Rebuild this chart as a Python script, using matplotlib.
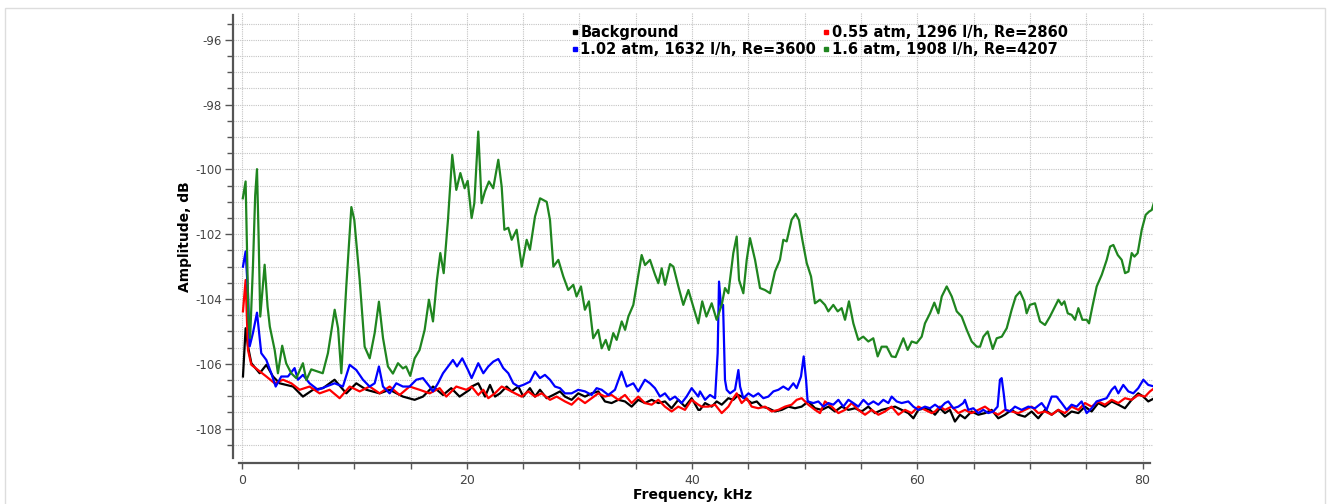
"""Spectra of the background and three flow regimes."""

import matplotlib.pyplot as plt
from matplotlib.lines import Line2D
from matplotlib.patches import Rectangle
from matplotlib.ticker import MultipleLocator, FixedLocator

W, H = 1329, 504

labels = ['Background', '0.55 atm, 1296 l/h, Re=2860',
          '1.02 atm, 1632 l/h, Re=3600', '1.6 atm, 1908 l/h, Re=4207']
colors = ['#000000', '#ff0000', '#0000ff', '#1f851f']

freq_bg = [0.115, 0.35, 0.56, 0.86, 1.6, 2.19, 2.78, 3.37, 4.56, 5.44, 6.33, 7.22, 8.25,
           9.29, 10.18, 11.07, 12.25, 13.14, 14.32, 15.36, 16.1, 16.99, 17.88, 18.61,
           19.35, 20.24, 20.42, 21.01, 21.61, 22.05, 22.5, 22.94, 23.53, 23.97, 24.57,
           25.01, 25.6, 26.05, 26.49, 27.08, 27.67, 28.27, 28.71, 29.3, 29.89, 30.49,
           31.08, 31.67, 32.26, 32.85, 33.45, 34.04, 34.63, 35.22, 35.81, 36.41, 37.0,
           37.59, 38.18, 38.77, 39.37, 39.96, 40.55, 40.7, 41.15, 41.74, 42.18, 42.63,
           43.22, 43.66, 44.1, 44.7, 45.29, 45.74, 46.18, 46.77, 47.36, 47.96, 48.55,
           49.14, 49.73, 50.32, 50.92, 51.51, 52.1, 52.69, 53.28, 53.88, 54.47, 55.06,
           55.65, 56.24, 56.84, 57.43, 58.02, 58.61, 59.2, 59.65, 60.09, 60.68, 61.12,
           61.57, 62.01, 62.46, 62.9, 63.34, 63.79, 64.23, 64.82, 65.42, 66.01, 66.6,
           67.19, 67.78, 68.38, 68.97, 69.56, 70.15, 70.74, 71.34, 71.93, 72.52, 73.11,
           73.7, 74.3, 74.89, 75.48, 76.07, 76.66, 77.26, 77.85, 78.44, 79.03, 79.62,
           80.07, 80.51, 81.05]
amp_bg = [-106.39, -104.90, -105.46, -105.98, -106.29, -106.03, -106.39, -106.60, -106.70,
          -107.01, -106.80, -106.75, -106.49, -106.91, -106.60, -106.80, -106.91, -106.80,
          -107.01, -107.11, -107.01, -106.70, -106.96, -106.75, -107.01, -106.80, -106.70,
          -106.60, -107.01, -106.65, -107.01, -106.91, -106.70, -106.85, -106.70, -107.01,
          -106.75, -107.01, -106.80, -107.06, -106.96, -106.85, -107.01, -107.11, -106.91,
          -107.01, -106.91, -106.85, -107.16, -107.21, -107.11, -107.16, -107.32, -107.11,
          -107.21, -107.11, -107.21, -107.16, -107.37, -107.11, -107.32, -107.06, -107.42,
          -107.42, -107.21, -107.32, -107.16, -107.26, -107.06, -107.11, -106.96, -107.06,
          -107.21, -107.16, -107.32, -107.37, -107.47, -107.42, -107.32, -107.37, -107.32,
          -107.16, -107.37, -107.42, -107.32, -107.47, -107.32, -107.42, -107.37, -107.47,
          -107.32, -107.52, -107.42, -107.37, -107.32, -107.42, -107.52, -107.68, -107.42,
          -107.37, -107.42, -107.57, -107.37, -107.52, -107.42, -107.78, -107.57, -107.68,
          -107.47, -107.57, -107.52, -107.42, -107.68, -107.57, -107.42, -107.57, -107.63,
          -107.47, -107.68, -107.42, -107.57, -107.42, -107.63, -107.47, -107.52, -107.32,
          -107.47, -107.21, -107.32, -107.16, -107.26, -107.37, -107.11, -106.91, -107.01,
          -107.16, -107.06]

freq_low = [0.115, 0.35, 0.56, 0.86, 1.45, 2.19, 2.93, 3.67, 4.41, 5.15, 6.03, 6.92, 7.81,
            8.7, 9.59, 10.48, 11.36, 12.25, 13.14, 14.03, 14.91, 15.8, 16.69, 17.58, 18.17,
            19.06, 19.95, 20.42, 21.01, 21.46, 21.9, 22.49, 23.09, 23.68, 24.27, 24.86,
            25.45, 26.05, 26.64, 27.38, 27.97, 28.71, 29.3, 29.89, 30.49, 31.08, 31.67,
            32.26, 32.85, 33.45, 34.04, 34.63, 35.22, 35.81, 36.41, 37.0, 37.59, 38.18,
            38.77, 39.37, 39.96, 40.55, 40.85, 41.44, 42.04, 42.63, 43.22, 43.66, 43.96,
            44.4, 44.85, 45.29, 45.88, 46.48, 47.07, 47.66, 48.25, 48.84, 49.29, 49.73,
            50.32, 50.92, 51.36, 51.8, 52.4, 52.99, 53.58, 54.17, 54.76, 55.36, 55.95,
            56.54, 57.13, 57.72, 58.32, 58.91, 59.5, 60.09, 60.68, 61.28, 61.57, 62.01,
            62.46, 63.05, 63.64, 64.23, 64.82, 65.42, 66.01, 66.6, 67.19, 67.78, 68.38,
            68.97, 69.56, 70.15, 70.74, 71.34, 71.93, 72.52, 73.11, 73.7, 74.3, 74.89,
            75.48, 76.07, 76.66, 77.26, 77.85, 78.44, 79.03, 79.62, 80.22, 80.66, 81.05]
amp_low = [-104.38, -103.41, -105.57, -106.03, -106.19, -106.39, -106.60, -106.49, -106.60,
           -106.80, -106.70, -106.91, -106.80, -107.06, -106.70, -106.85, -106.70, -106.91,
           -106.70, -106.96, -106.70, -106.80, -106.91, -106.75, -107.01, -106.70, -106.80,
           -106.70, -106.96, -106.80, -107.06, -106.91, -106.70, -106.80, -106.91, -107.01,
           -106.85, -107.01, -106.91, -107.11, -107.01, -107.16, -107.26, -107.06, -107.21,
           -107.06, -106.91, -107.01, -106.96, -107.11, -106.96, -107.21, -107.01, -107.21,
           -107.26, -107.11, -107.32, -107.47, -107.32, -107.42, -107.11, -107.26, -107.32,
           -107.32, -107.26, -107.52, -107.32, -107.06, -106.91, -107.21, -107.06, -107.32,
           -107.37, -107.32, -107.47, -107.42, -107.32, -107.26, -107.11, -107.06, -107.26,
           -107.42, -107.52, -107.16, -107.32, -107.52, -107.42, -107.21, -107.42, -107.57,
           -107.42, -107.57, -107.47, -107.32, -107.57, -107.42, -107.52, -107.32, -107.42,
           -107.52, -107.47, -107.32, -107.42, -107.32, -107.52, -107.42, -107.52, -107.42,
           -107.32, -107.47, -107.57, -107.42, -107.47, -107.52, -107.42, -107.32, -107.52,
           -107.47, -107.57, -107.42, -107.52, -107.32, -107.42, -107.21, -107.32, -107.16,
           -107.26, -107.11, -107.21, -107.06, -107.11, -106.96, -107.01, -106.85, -106.75]

freq_mid = [0.115, 0.35, 0.56, 0.71, 1.0, 1.36, 1.74, 2.19, 2.63, 3.02, 3.52, 4.11, 4.7,
            5.0, 5.44, 6.03, 6.77, 7.51, 8.25, 8.99, 9.59, 10.18, 10.77, 11.36, 11.81,
            12.19, 12.55, 13.14, 13.73, 14.32, 14.91, 15.51, 16.1, 16.69, 16.99, 17.43,
            17.88, 18.76, 19.12, 19.59, 20.1, 20.42, 21.01, 21.46, 21.9, 22.35, 22.79,
            23.23, 23.68, 24.12, 24.57, 25.01, 25.6, 26.05, 26.49, 26.93, 27.38, 27.82,
            28.27, 28.71, 29.3, 29.89, 30.49, 31.08, 31.52, 31.97, 32.56, 33.15, 33.73,
            34.19, 34.78, 35.22, 35.81, 36.26, 36.7, 37.15, 37.59, 38.03, 38.48, 39.07,
            39.51, 39.96, 40.55, 40.7, 41.15, 41.59, 42.04, 42.27, 42.39, 42.57, 42.75,
            42.92, 43.07, 43.37, 43.81, 44.11, 44.26, 44.55, 45.0, 45.44, 45.88, 46.33,
            46.77, 47.22, 47.66, 48.1, 48.55, 48.99, 49.29, 49.67, 49.91, 50.12, 50.26,
            50.77, 51.21, 51.66, 52.1, 52.54, 52.99, 53.43, 53.88, 54.32, 54.76, 55.21,
            55.65, 56.1, 56.54, 56.98, 57.43, 57.72, 58.17, 58.61, 59.2, 59.65, 60.09,
            60.68, 61.13, 61.57, 62.01, 62.46, 62.75, 63.2, 63.64, 64.08, 64.23, 64.53,
            64.97, 65.42, 65.86, 66.3, 66.75, 67.13, 67.34, 67.49, 67.67, 67.84, 68.23,
            68.67, 69.26, 69.86, 70.45, 71.04, 71.48, 71.93, 72.37, 72.82, 73.26, 73.7,
            74.15, 74.59, 75.04, 75.48, 75.92, 76.37, 76.81, 77.26, 77.55, 77.85, 78.29,
            78.74, 79.18, 79.62, 80.07, 80.51, 81.05]
amp_mid = [-103.00, -102.53, -103.82, -105.46, -105.05, -104.42, -105.67, -105.88, -106.29,
           -106.70, -106.39, -106.39, -106.13, -106.49, -106.34, -106.60, -106.80, -106.70,
           -106.60, -106.70, -106.03, -106.19, -106.49, -106.70, -106.60, -106.08, -106.70,
           -106.91, -106.60, -106.70, -106.70, -106.49, -106.44, -106.70, -106.85, -106.60,
           -106.29, -105.88, -106.08, -105.83, -106.19, -106.44, -105.98, -106.29, -106.08,
           -105.93, -105.85, -106.13, -106.29, -106.60, -106.70, -106.65, -106.55, -106.24,
           -106.44, -106.34, -106.49, -106.70, -106.75, -106.91, -106.91, -106.80, -106.85,
           -106.96, -106.75, -106.80, -106.96, -106.80, -106.24, -106.70, -106.60, -106.85,
           -106.49, -106.60, -106.75, -107.01, -106.91, -107.11, -107.01, -107.21, -107.01,
           -106.75, -107.01, -106.85, -107.11, -106.96, -107.06, -105.67, -103.46, -104.23,
           -104.18, -106.49, -106.80, -106.91, -106.80, -106.19, -106.70, -107.06, -106.91,
           -107.01, -106.91, -107.06, -107.01, -106.85, -106.80, -106.70, -106.80, -106.60,
           -106.75, -106.39, -105.77, -106.49, -107.16, -107.21, -107.16, -107.32, -107.21,
           -107.26, -107.11, -107.32, -107.11, -107.21, -107.32, -107.11, -107.26, -107.16,
           -107.26, -107.11, -107.21, -107.01, -107.16, -107.21, -107.16, -107.32, -107.42,
           -107.32, -107.37, -107.26, -107.37, -107.21, -107.16, -107.37, -107.32, -107.21,
           -107.11, -107.42, -107.37, -107.52, -107.42, -107.52, -107.47, -107.32, -106.49,
           -106.44, -106.91, -107.42, -107.47, -107.32, -107.42, -107.32, -107.37, -107.21,
           -107.42, -107.01, -107.01, -107.21, -107.42, -107.26, -107.32, -107.16, -107.52,
           -107.37, -107.16, -107.11, -107.06, -106.80, -106.70, -106.91, -106.65, -106.85,
           -106.91, -106.75, -106.49, -106.65, -106.70]

freq_high = [0.1, 0.35, 0.6, 0.75, 1.0, 1.2, 1.36, 1.5, 1.65, 2.04, 2.3, 2.5, 2.93, 3.22,
             3.6, 3.95, 4.4, 4.85, 5.44, 5.74, 6.18, 6.77, 7.2, 7.66, 8.26, 8.56, 8.85,
             9.29, 9.74, 10.0, 10.48, 10.92, 11.37, 11.81, 12.19, 12.55, 12.99, 13.43,
             13.88, 14.32, 14.6, 14.97, 15.36, 15.8, 16.25, 16.63, 16.99, 17.34, 17.64,
             17.94, 18.32, 18.7, 19.06, 19.42, 19.8, 20.07, 20.42, 20.66, 21.01, 21.31,
             21.6, 21.96, 22.34, 22.79, 23.09, 23.33, 23.68, 23.98, 24.42, 24.87, 25.31,
             25.6, 26.05, 26.5, 27.09, 27.38, 27.68, 28.12, 28.56, 29.0, 29.45, 29.74,
             30.13, 30.48, 30.84, 31.22, 31.66, 31.97, 32.33, 32.62, 33.0, 33.3, 33.75,
             34.05, 34.34, 34.78, 35.08, 35.52, 35.82, 36.26, 36.71, 37.0, 37.3, 37.6,
             38.04, 38.34, 38.78, 39.22, 39.67, 40.1, 40.55, 40.9, 41.27, 41.74, 42.18,
             42.63, 42.92, 43.22, 43.66, 43.96, 44.17, 44.55, 44.85, 45.14, 45.59, 46.03,
             46.47, 46.92, 47.36, 47.8, 48.1, 48.4, 48.84, 49.2, 49.49, 49.79, 50.18,
             50.56, 50.91, 51.36, 51.8, 52.1, 52.54, 52.93, 53.28, 53.58, 53.93, 54.32,
             54.76, 55.2, 55.65, 56.09, 56.48, 56.83, 57.28, 57.72, 58.07, 58.45, 58.76,
             59.14, 59.5, 59.94, 60.39, 60.68, 61.13, 61.51, 61.87, 62.17, 62.61, 63.06,
             63.5, 63.94, 64.39, 64.83, 65.28, 65.57, 65.87, 66.25, 66.7, 67.05, 67.5,
             67.94, 68.38, 68.74, 69.12, 69.5, 69.71, 70.0, 70.45, 70.9, 71.34, 71.78,
             72.23, 72.53, 72.82, 73.06, 73.36, 73.71, 74.01, 74.3, 74.66, 75.04, 75.25,
             75.55, 75.93, 76.38, 76.82, 77.12, 77.41, 77.8, 78.15, 78.45, 78.75, 79.04,
             79.28, 79.57, 79.93, 80.28, 80.58, 80.82, 81.0]
amp_high = [-100.89, -100.37, -104.6, -105.2, -103.0, -100.8, -99.99, -102.0, -104.54,
            -102.94, -104.23, -104.85, -105.57, -106.29, -105.44, -105.98, -106.29, -106.44,
            -105.98, -106.5, -106.17, -106.24, -106.29, -105.67, -104.33, -104.9, -106.29,
            -103.61, -101.16, -101.55, -103.41, -105.47, -105.83, -105.05, -104.08, -105.2,
            -106.08, -106.3, -105.98, -106.14, -106.08, -106.37, -105.83, -105.57, -104.95,
            -104.02, -104.69, -103.41, -102.58, -103.2, -101.56, -99.55, -100.63, -100.11,
            -100.58, -100.35, -101.5, -101.04, -98.83, -101.04, -100.68, -100.37, -100.58,
            -99.7, -100.53, -101.86, -101.8, -102.17, -101.86, -103.0, -102.17, -102.48,
            -101.45, -100.89, -101.0, -101.56, -103.0, -102.79, -103.3, -103.72, -103.56,
            -103.92, -103.61, -104.33, -104.07, -105.21, -104.95, -105.52, -105.26, -105.57,
            -105.05, -105.26, -104.69, -104.95, -104.54, -104.18, -103.56, -102.64, -102.95,
            -102.79, -103.25, -103.51, -103.05, -103.56, -102.92, -103.0, -103.61, -104.18,
            -103.72, -104.23, -104.75, -104.07, -104.54, -104.13, -104.64, -104.18, -103.66,
            -103.82, -102.58, -102.07, -103.41, -103.82, -102.79, -102.12, -102.79, -103.66,
            -103.72, -103.82, -103.15, -102.79, -102.17, -102.22, -101.55, -101.37, -101.56,
            -102.17, -102.89, -103.3, -104.13, -104.02, -104.18, -104.38, -104.18, -104.38,
            -104.28, -104.64, -104.07, -104.75, -105.26, -105.16, -105.31, -105.21, -105.77,
            -105.47, -105.47, -105.77, -105.79, -105.47, -105.21, -105.57, -105.31, -105.36,
            -105.16, -104.75, -104.44, -104.11, -104.44, -103.92, -103.61, -103.92, -104.38,
            -104.54, -104.95, -105.31, -105.47, -105.47, -105.16, -105.0, -105.54, -105.21,
            -105.16, -104.9, -104.33, -103.92, -103.77, -104.07, -104.44, -104.18, -104.13,
            -104.69, -104.8, -104.54, -104.23, -104.02, -104.18, -104.07, -104.44, -104.49,
            -104.64, -104.28, -104.64, -104.64, -104.75, -104.23, -103.61, -103.25, -102.79,
            -102.38, -102.33, -102.64, -102.79, -103.2, -103.15, -102.58, -102.69, -102.58,
            -101.86, -101.4, -101.3, -101.25, -101.04]


def main():
    plt.rcParams['axes.unicode_minus'] = False
    fig = plt.figure(figsize=(W / 100, H / 100), dpi=100)
    # faint frame around the whole widget
    fig.patches.append(Rectangle((5 / W, -0.1), 1320 / W, 1.1 - 8 / H,
                                 transform=fig.transFigure, fill=False,
                                 edgecolor='#dddddd', lw=1))

    ax = fig.add_axes([233 / W, 1 - 463 / H, 920 / W, 450 / H])
    series = [(freq_bg, amp_bg), (freq_low, amp_low),
              (freq_mid, amp_mid), (freq_high, amp_high)]
    for (f, a), c in zip(series, colors):
        ax.plot(f, a, color=c, lw=1.6)

    ax.set_xlim(-0.77, 80.93)
    ax.set_ylim(-109.06, -95.17)

    ax.xaxis.set_major_locator(MultipleLocator(20))
    ax.xaxis.set_minor_locator(MultipleLocator(5))
    ax.yaxis.set_major_locator(MultipleLocator(2))
    ax.yaxis.set_minor_locator(FixedLocator([-108.5 + 0.5 * i for i in range(27)]))

    ax.grid(which='both', linestyle=(0, (1, 1)), color='#c4c4c4', lw=0.8)
    ax.set_axisbelow(True)

    for s in ('top', 'right'):
        ax.spines[s].set_visible(False)
    ax.spines['left'].set_bounds(-108.9, -95.23)
    ax.spines['bottom'].set_bounds(-0.25, 80.7)
    for s in ('left', 'bottom'):
        ax.spines[s].set_color('#555555')
        ax.spines[s].set_linewidth(1.6)

    ax.tick_params(axis='x', which='both', length=4, width=1, color='#555555',
                   labelsize=9, labelcolor='#444444', pad=4)
    ax.tick_params(axis='y', which='major', length=6, width=1, color='#555555',
                   labelsize=8.5, labelcolor='#444444', pad=2)
    ax.tick_params(axis='y', which='minor', length=4, width=1, color='#555555')
    ax.set_xticklabels([], minor=True)

    fig.text(693 / W, 1 - 495 / H, 'Frequency, kHz', ha='center', va='center',
             fontsize=10, fontweight='bold')
    fig.text(185 / W, 1 - 237 / H, 'Amplitude, dB', ha='center', va='center',
             rotation=90, fontsize=10, fontweight='bold')

    # legend fills column by column: left column black/blue, right red/green
    order = [0, 2, 1, 3]
    handles = [Line2D([], [], ls='', marker='s', ms=3.2, color=colors[i]) for i in order]
    ax.legend(handles, [labels[i] for i in order], ncol=2, frameon=False,
              loc='upper left', bbox_to_anchor=(571 / W, 1 - 25 / H),
              bbox_transform=fig.transFigure, borderpad=0, borderaxespad=0,
              handlelength=0.5, handletextpad=0.15, columnspacing=0.4,
              labelspacing=0.15, prop={'weight': 'bold', 'size': 10.5})

    fig.savefig('out.png', dpi=100)


if __name__ == '__main__':
    main()
